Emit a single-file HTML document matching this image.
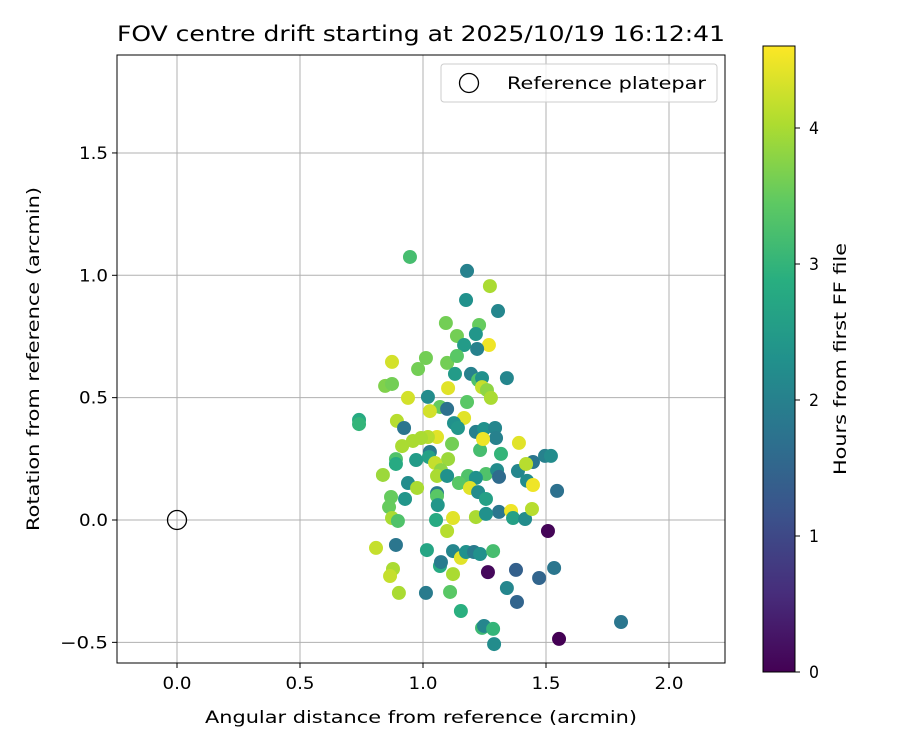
<!DOCTYPE html>
<html><head><meta charset="utf-8"><style>
body{margin:0;background:#fff;}
svg text{font-family:"DejaVu Sans","Liberation Sans",sans-serif;}
</style></head><body>
<svg id="chart" width="900" height="750" xmlns="http://www.w3.org/2000/svg">
<defs><linearGradient id="vir" x1="0" y1="1" x2="0" y2="0">
<stop offset="0" stop-color="#440154"/><stop offset="0.125" stop-color="#472d7b"/><stop offset="0.25" stop-color="#3b528b"/><stop offset="0.375" stop-color="#2c728e"/><stop offset="0.5" stop-color="#21918c"/><stop offset="0.625" stop-color="#28ae80"/><stop offset="0.75" stop-color="#5ec962"/><stop offset="0.875" stop-color="#addc30"/><stop offset="1" stop-color="#fde725"/></linearGradient></defs>
<text x="117" y="41" font-size="21" textLength="608" lengthAdjust="spacingAndGlyphs">FOV centre drift starting at 2025/10/19 16:12:41</text>
<g id="grid"></g><g id="pts"></g><g id="axes"></g>
<rect x="117" y="55" width="608" height="608" fill="none" stroke="#000" stroke-width="1"/>
<g>
<rect x="441" y="64" width="276" height="38" rx="3" fill="#fff" fill-opacity="0.8" stroke="#ccc"/>
<circle cx="469" cy="83" r="9.5" fill="none" stroke="#000" stroke-width="1.3"/>
<text x="507" y="89" font-size="17" textLength="199" lengthAdjust="spacingAndGlyphs">Reference platepar</text></g>
<text x="205" y="723" font-size="17" textLength="432" lengthAdjust="spacingAndGlyphs">Angular distance from reference (arcmin)</text>
<text transform="translate(39,531) rotate(-90)" font-size="17" textLength="344" lengthAdjust="spacingAndGlyphs">Rotation from reference (arcmin)</text>
<rect x="763" y="46" width="32" height="626" fill="url(#vir)" stroke="#000"/>
<g id="cbticks"></g>
<text transform="translate(846,475) rotate(-90)" font-size="17" textLength="232" lengthAdjust="spacingAndGlyphs">Hours from first FF file</text>
</svg>
<script>
const xs=[0.947,1.179,1.175,1.305,1.272,1.093,1.228,1.138,1.215,1.167,1.268,1.22,0.874,1.012,1.098,1.138,0.98,1.13,1.195,1.224,1.24,1.341,0.846,0.874,1.102,1.24,1.26,1.276,1.02,0.939,1.069,1.098,1.179,1.167,1.028,0.894,0.74,0.74,0.923,1.126,1.142,1.215,1.248,1.293,1.39,1.057,1.02,0.959,0.992,0.915,1.118,1.297,1.232,1.317,1.244,1.028,1.024,1.102,0.972,0.89,0.89,1.049,1.073,0.837,0.939,1.057,1.098,1.183,1.256,1.215,1.301,1.386,1.447,1.496,1.52,1.419,1.423,1.447,1.545,1.309,1.146,1.191,1.224,1.256,0.976,1.057,0.87,0.927,1.057,1.06,0.862,0.874,0.898,1.053,1.122,1.215,1.309,1.256,1.358,1.366,1.415,1.443,0.809,0.89,1.016,1.069,1.073,1.098,1.122,1.154,1.122,0.878,0.866,0.902,1.012,1.11,1.154,1.175,1.207,1.232,1.285,1.264,1.378,1.341,1.382,1.472,1.533,1.508,1.553,1.805,1.24,1.248,1.289,1.285];
const ys=[1.075,1.018,0.899,0.854,0.956,0.805,0.797,0.752,0.76,0.715,0.715,0.699,0.646,0.662,0.642,0.67,0.617,0.597,0.597,0.572,0.58,0.58,0.548,0.556,0.539,0.543,0.531,0.499,0.503,0.499,0.462,0.454,0.482,0.417,0.445,0.405,0.409,0.392,0.376,0.396,0.376,0.36,0.372,0.376,0.315,0.339,0.339,0.323,0.335,0.302,0.311,0.335,0.286,0.27,0.331,0.278,0.257,0.249,0.245,0.249,0.229,0.233,0.204,0.184,0.151,0.18,0.18,0.18,0.188,0.172,0.204,0.2,0.237,0.262,0.262,0.229,0.16,0.143,0.119,0.176,0.151,0.131,0.114,0.086,0.131,0.11,0.094,0.086,0.098,0.061,0.053,0.008,-0.004,0.0,0.008,0.012,0.033,0.025,0.037,0.008,0.004,0.045,-0.114,-0.102,-0.123,-0.188,-0.172,-0.045,-0.127,-0.155,-0.221,-0.2,-0.229,-0.298,-0.298,-0.294,-0.372,-0.131,-0.131,-0.139,-0.127,-0.213,-0.204,-0.278,-0.335,-0.237,-0.196,-0.045,-0.486,-0.417,-0.441,-0.433,-0.507,-0.445];
const hours=[3.2,2.0,2.3,2.1,4.0,3.6,3.5,3.6,2.4,2.5,4.5,2.0,4.3,3.6,3.6,3.4,3.6,2.5,2.0,3.3,2.3,2.1,3.7,3.6,4.4,4.2,3.8,4.0,2.2,4.3,3.5,1.7,3.4,4.4,4.3,4.1,2.8,3.0,1.8,2.3,2.4,2.0,2.3,2.1,4.4,4.4,4.1,4.0,4.0,4.0,3.6,2.0,3.2,3.0,4.5,1.9,2.6,3.9,2.5,3.3,2.8,4.2,3.8,3.9,2.2,4.0,2.3,3.3,3.3,2.3,2.2,2.1,1.8,2.0,2.2,4.1,2.2,4.5,1.7,1.6,3.4,4.4,2.2,2.6,4.0,1.9,3.5,2.4,3.4,2.4,3.5,4.0,3.3,2.8,4.4,4.0,1.8,2.3,4.5,2.6,2.2,4.1,4.2,1.8,2.7,2.8,1.9,4.1,2.1,4.4,4.0,4.0,4.2,4.0,1.9,3.4,2.9,2.3,1.9,2.3,3.2,0.1,1.4,2.1,1.5,1.5,1.8,0.05,0.0,1.8,3.1,2.1,2.2,3.0];
const xTicks=[0.0,0.5,1.0,1.5,2.0], xLabels=["0.0","0.5","1.0","1.5","2.0"];
const yTicks=[-0.5,0.0,0.5,1.0,1.5], yLabels=["−0.5","0.0","0.5","1.0","1.5"];
const cTicks=[0,1,2,3,4];
const NS="http://www.w3.org/2000/svg";
const X=v=>177+v*246, Y=v=>520-v*244.7, C=v=>672-v*136;
const stops=[[68,1,84],[71,44,123],[59,82,139],[44,114,142],[33,145,140],[40,174,128],[94,201,98],[173,220,48],[253,231,37]];
function vir(h){let t=Math.max(0,Math.min(1,h/4.6))*8,i=Math.min(7,Math.floor(t)),f=t-i,a=stops[i],b=stops[i+1];
return `rgb(${a.map((c,k)=>Math.round(c+(b[k]-c)*f)).join(',')})`;}
function mk(tag,at,parent){const e=document.createElementNS(NS,tag);for(const k in at)e.setAttribute(k,at[k]);document.getElementById(parent).appendChild(e);return e;}
xTicks.forEach((v,i)=>{
 const g=mk('line',{x1:X(v),x2:X(v),y1:55,y2:663,stroke:'#b0b0b0','stroke-width':1},'grid');
 
 
 mk('line',{x1:X(v),x2:X(v),y1:663,y2:668,stroke:'#000'},'axes');
 const t=mk('text',{x:X(v),y:689,'font-size':17,'text-anchor':'middle',textLength:29,lengthAdjust:'spacingAndGlyphs'},'axes');t.textContent=xLabels[i];
 
 
});
yTicks.forEach((v,i)=>{
 const t0=yLabels[i].length>3;
 const g=mk('line',{x1:117,x2:725,y1:Y(v),y2:Y(v),stroke:'#b0b0b0','stroke-width':1},'grid');
 
 
 mk('line',{x1:112,x2:117,y1:Y(v),y2:Y(v),stroke:'#000'},'axes');
 const t=mk('text',{x:108,y:Y(v)+6,'font-size':17,'text-anchor':'end',textLength:t0?48:29,lengthAdjust:'spacingAndGlyphs'},'axes');t.textContent=yLabels[i];
 
 
});
cTicks.forEach(v=>{
 mk('line',{x1:795,x2:800,y1:C(v),y2:C(v),stroke:'#000'},'cbticks');
 const t=mk('text',{x:809,y:C(v)+6,'font-size':17,textLength:10,lengthAdjust:'spacingAndGlyphs'},'cbticks');t.textContent=String(v);
 
 
});
xs.forEach((x,i)=>{
 const c=mk('circle',{cx:X(x),cy:Y(ys[i]),r:7,fill:vir(hours[i])},'pts');
 
 
});
const r=mk('circle',{cx:X(0),cy:Y(0),r:9.5,fill:'none',stroke:'#000','stroke-width':1.3},'pts');


</script>
</body></html>
